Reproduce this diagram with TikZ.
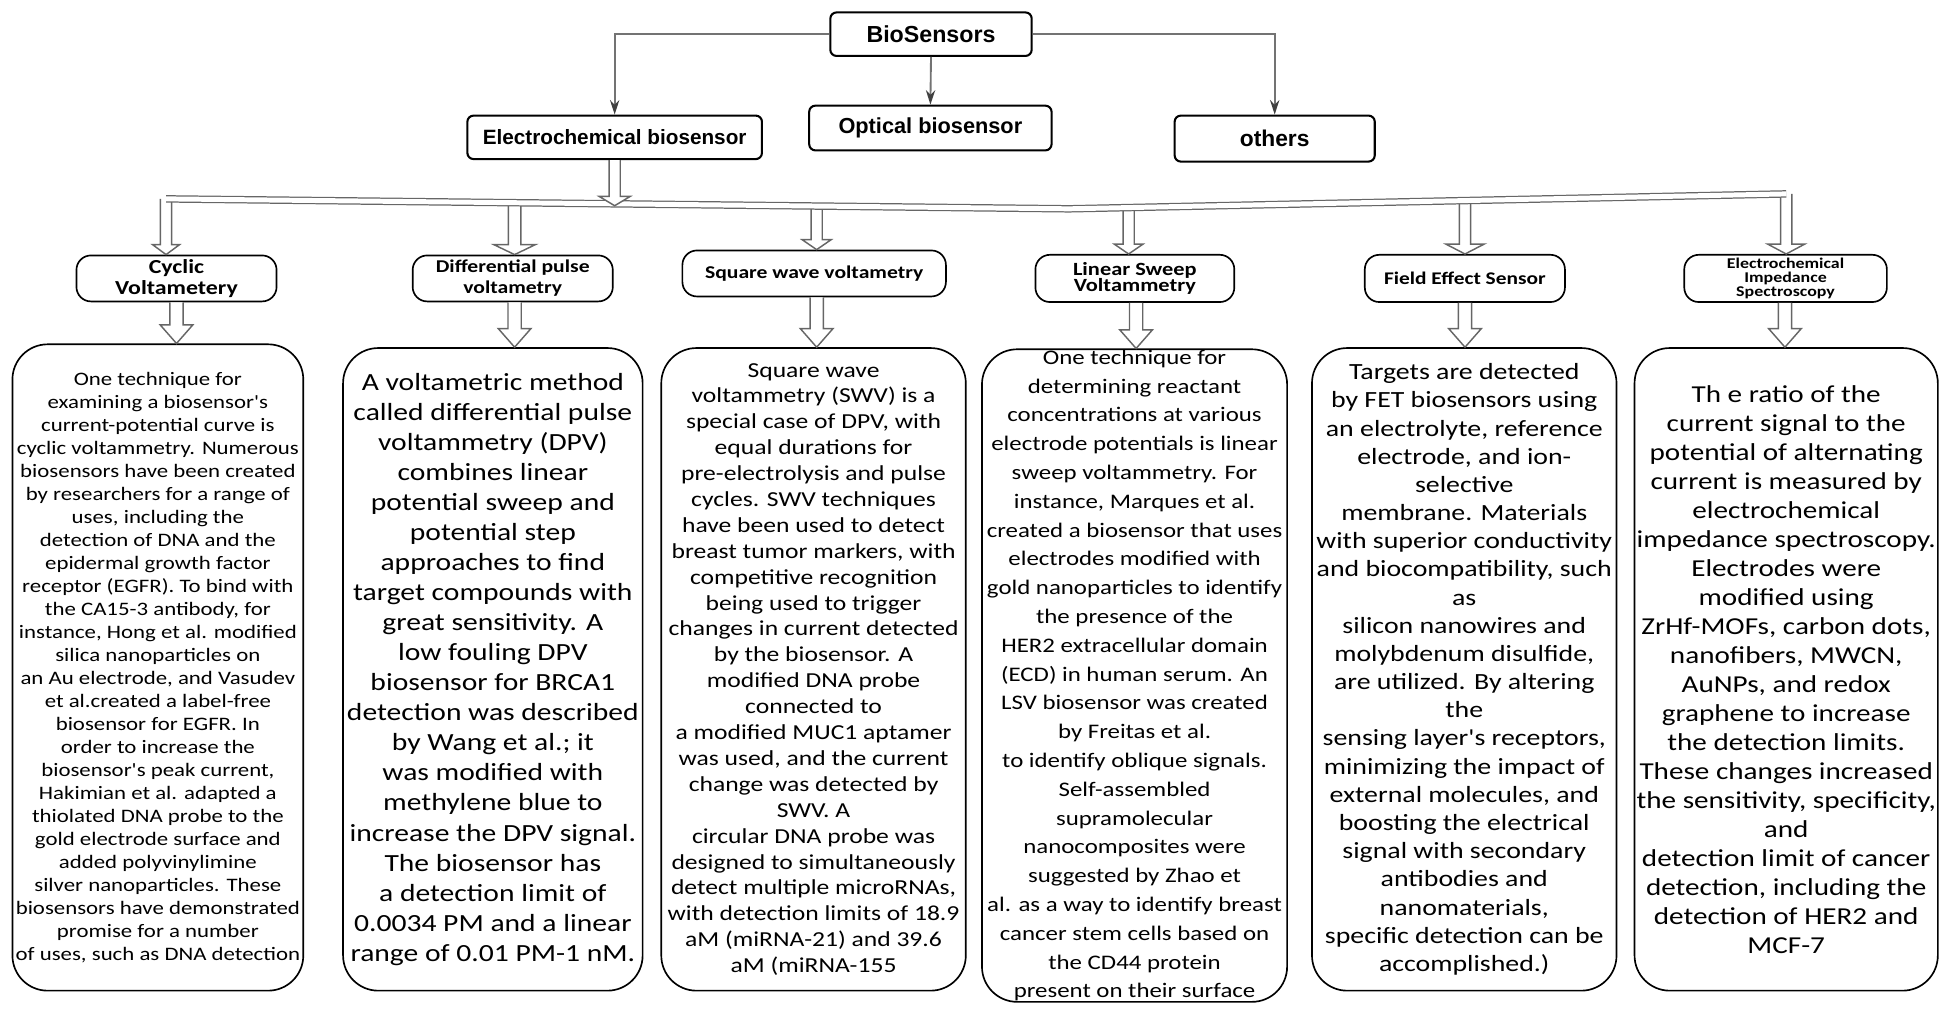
\documentclass[tikz,border=0pt]{standalone}
\usepackage{fontspec}
\setmainfont{Carlito}
\newfontfamily\bodyf[FakeStretch=1.2]{Carlito}
\newfontfamily\topf{Liberation Sans}
\usetikzlibrary{arrows.meta,calc}
\newcommand\uu{0.6pt}
\newcommand\hollowarrow[5]{% #1 start, #2 end, #3 shaft half width, #4 head half width, #5 head length
  \draw[hollow] let \p1=(#1), \p2=(#2) in
    ({\x1-#3},\y1) -- ({\x1-#3},{\y2+#5}) -- ({\x1-#4},{\y2+#5}) -- (\x1,\y2)
    -- ({\x1+#4},{\y2+#5}) -- ({\x1+#3},{\y2+#5}) -- ({\x1+#3},\y1);}
\tikzset{
  topbox/.style={draw=black, line width=1pt, rounded corners=3pt, inner sep=0pt, fill=white},
  subbox/.style={draw=black, line width=0.8pt, rounded corners=7pt, inner sep=0pt, align=center, fill=white},
  bodybox/.style={draw=black, line width=0.8pt, rounded corners=17pt, inner sep=0pt, align=center},
  conn/.style={draw=black!55, line width=0.9pt, -{Stealth[length=7pt,width=4.5pt,color=black!75]}},
  hollow/.style={draw=black!60, line width=0.7pt, fill=white, line join=miter},
  bar/.style={draw=black!60, line width=0.6pt, double=white, double distance=2.4pt},
}
\begin{document}
\begin{tikzpicture}[x=0.6pt, y=-0.6pt]
\useasboundingbox (0,0) rectangle (1568,817.4);

% top level
\node[topbox, minimum width=162*\uu, minimum height=35*\uu, font=\topf\bfseries\fontsize{11.2pt}{13pt}\selectfont] (bio) at (749,27.5) {BioSensors};
\node[topbox, minimum width=237*\uu, minimum height=35*\uu, font=\topf\bfseries\fontsize{10pt}{12pt}\selectfont] (ec) at (494.5,110.5) {Electrochemical biosensor};
\node[topbox, minimum width=195*\uu, minimum height=36*\uu, font=\topf\bfseries\fontsize{10.5pt}{12pt}\selectfont] (opt) at (748.5,103) {Optical biosensor};
\node[topbox, minimum width=161*\uu, minimum height=37*\uu, font=\topf\bfseries\fontsize{11pt}{12pt}\selectfont] (oth) at (1025.5,111.5) {others};

\draw[conn] (bio.west) -| (ec.north);
\draw[conn] (bio.east) -| (oth.north);
\draw[conn] (bio.south) -- (opt.north);

% bar
\coordinate (bL) at (133.6,160);
\coordinate (bM) at (860,168);
\coordinate (bR) at (1437,156);
\coordinate (bEC) at (494.5,165.5);
\coordinate (b1) at (133.6,160);
\coordinate (b2) at (414,163.5);
\coordinate (b3) at (657,165.5);
\coordinate (b4) at (908,166.5);
\coordinate (b5) at (1178.6,161.5);
\coordinate (b6) at (1437,156);

% sub boxes
\node[subbox, minimum width=161*\uu, minimum height=37*\uu, font=\bodyf\bfseries\fontsize{9.6pt}{10.2pt}\selectfont] (cv) at (142,224) {Cyclic\\Voltametery};
\node[subbox, minimum width=161*\uu, minimum height=37*\uu, font=\bodyf\bfseries\fontsize{8.7pt}{10.2pt}\selectfont] (dpv) at (412.5,224) {Differential pulse\\voltametry};
\node[subbox, minimum width=212*\uu, minimum height=37*\uu, font=\bodyf\bfseries\fontsize{8.7pt}{10.2pt}\selectfont] (swv) at (655,220) {Square wave voltametry};
\node[subbox, minimum width=160*\uu, minimum height=38*\uu, font=\bodyf\bfseries\fontsize{9pt}{7.8pt}\selectfont] (lsv) at (913,224) {Linear Sweep\\Voltammetry};
\node[subbox, minimum width=161*\uu, minimum height=38*\uu, font=\bodyf\bfseries\fontsize{8.6pt}{10pt}\selectfont] (fet) at (1178.5,224) {Field Effect Sensor};
\node[subbox, minimum width=163*\uu, minimum height=38*\uu, font=\bodyf\bfseries\fontsize{7.2pt}{6.6pt}\selectfont] (eis) at (1436.5,224) {Electrochemical\\Impedance\\Spectroscopy};

% body boxes
\node[bodybox, minimum width=234*\uu, minimum height=520*\uu, font=\bodyf\fontsize{9.18pt}{11.1pt}\selectfont] (cvb) at (127,537) {One technique for\\examining a biosensor's\\current-potential curve is\\cyclic voltammetry. Numerous\\biosensors have been created\\by researchers for a range of\\uses, including the\\detection of DNA and the\\epidermal growth factor\\receptor (EGFR). To bind with\\the CA15-3 antibody, for\\instance, Hong et al. modified\\silica nanoparticles on\\an Au electrode, and Vasudev\\et al.created a label-free\\biosensor for EGFR. In\\order to increase the\\biosensor's peak current,\\Hakimian et al. adapted a\\thiolated DNA probe to the\\gold electrode surface and\\added polyvinylimine\\silver nanoparticles. These\\biosensors have demonstrated\\promise for a number\\of uses, such as DNA detection};
\node[bodybox, minimum width=241*\uu, minimum height=517*\uu, font=\bodyf\fontsize{11.9pt}{14.5pt}\selectfont] (dpvb) at (396.5,538.5) {A voltametric method\\called differential pulse\\voltammetry (DPV)\\combines linear\\potential sweep and\\potential step\\approaches to find\\target compounds with\\great sensitivity. A\\low fouling DPV\\biosensor for BRCA1\\detection was described\\by Wang et al.; it\\was modified with\\methylene blue to\\increase the DPV signal.\\The biosensor has\\a detection limit of\\0.0034 PM and a linear\\range of 0.01 PM-1 nM.};
\node[bodybox, minimum width=245*\uu, minimum height=517*\uu, font=\bodyf\fontsize{10.3pt}{12.5pt}\selectfont] (swvb) at (654.5,538.5) {Square wave\\voltammetry (SWV) is a\\special case of DPV, with\\equal durations for\\pre-electrolysis and pulse\\cycles. SWV techniques\\have been used to detect\\breast tumor markers, with\\competitive recognition\\being used to trigger\\changes in current detected\\by the biosensor. A\\modified DNA probe\\connected to\\a modified MUC1 aptamer\\was used, and the current\\change was detected by\\SWV. A\\circular DNA probe was\\designed to simultaneously\\detect multiple microRNAs,\\with detection limits of 18.9\\aM (miRNA-21) and 39.6\\aM (miRNA-155};
\node[bodybox, minimum width=245.5*\uu, minimum height=525*\uu, font=\bodyf\fontsize{10pt}{13.9pt}\selectfont] (lsvb) at (912.75,543.5) {One technique for\\determining reactant\\concentrations at various\\electrode potentials is linear\\sweep voltammetry. For\\instance, Marques et al.\\created a biosensor that uses\\electrodes modified with\\gold nanoparticles to identify\\the presence of the\\HER2 extracellular domain\\(ECD) in human serum. An\\LSV biosensor was created\\by Freitas et al.\\to identify oblique signals.\\Self-assembled\\supramolecular\\nanocomposites were\\suggested by Zhao et\\al. as a way to identify breast\\cancer stem cells based on\\the CD44 protein\\present on their surface};
\node[bodybox, minimum width=245*\uu, minimum height=517*\uu, font=\bodyf\fontsize{11.2pt}{13.6pt}\selectfont] (fetb) at (1178,538.5) {Targets are detected\\by FET biosensors using\\an electrolyte, reference\\electrode, and ion-\\selective\\membrane. Materials\\with superior conductivity\\and biocompatibility, such\\as\\silicon nanowires and\\molybdenum disulfide,\\are utilized. By altering\\the\\sensing layer's receptors,\\minimizing the impact of\\external molecules, and\\boosting the electrical\\signal with secondary\\antibodies and\\nanomaterials,\\specific detection can be\\accomplished.)};
\node[bodybox, minimum width=244*\uu, minimum height=517*\uu, font=\bodyf\fontsize{11.73pt}{14pt}\selectfont] (eisb) at (1437,538.5) {Th e ratio of the\\current signal to the\\potential of alternating\\current is measured by\\electrochemical\\impedance spectroscopy.\\Electrodes were\\modified using\\ZrHf-MOFs, carbon dots,\\nanofibers, MWCN,\\AuNPs, and redox\\graphene to increase\\the detection limits.\\These changes increased\\the sensitivity, specificity,\\and\\detection limit of cancer\\detection, including the\\detection of HER2 and\\MCF-7};

% hollow arrows: bar to sub boxes
\hollowarrow{b1}{b1 |- cv.north}{2.7pt}{6.5pt}{4.8pt}
\hollowarrow{b2}{b2 |- dpv.north}{3pt}{10pt}{4.8pt}
\hollowarrow{b3}{b3 |- swv.north}{2.7pt}{7pt}{4.8pt}
\hollowarrow{b4}{b4 |- lsv.north}{2.7pt}{7pt}{4.8pt}
\hollowarrow{b5}{b5 |- fet.north}{2.7pt}{9.3pt}{4.8pt}
\hollowarrow{b6}{b6 |- eis.north}{2.7pt}{9pt}{4.8pt}

% bar drawn over arrow tops
\draw[bar] (bL) -- (bM) -- (bR);

% electrochemical to bar
\hollowarrow{ec.south}{bEC}{2.7pt}{7.5pt}{4.5pt}

% sub boxes to body boxes
\coordinate (s1) at (142,0);
\hollowarrow{s1 |- cv.south}{s1 |- cvb.north}{3.2pt}{7.9pt}{9pt}
\coordinate (s2) at (414,0);
\hollowarrow{s2 |- dpv.south}{s2 |- dpvb.north}{3.2pt}{7.9pt}{9pt}
\coordinate (s3) at (657,0);
\hollowarrow{s3 |- swv.south}{s3 |- swvb.north}{3.2pt}{7.9pt}{9pt}
\coordinate (s4) at (914,0);
\hollowarrow{s4 |- lsv.south}{s4 |- lsvb.north}{3.2pt}{7.9pt}{9pt}
\coordinate (s5) at (1178.6,0);
\hollowarrow{s5 |- fet.south}{s5 |- fetb.north}{3.2pt}{7.9pt}{9pt}
\coordinate (s6) at (1436,0);
\hollowarrow{s6 |- eis.south}{s6 |- eisb.north}{3.2pt}{7.9pt}{9pt}
\end{tikzpicture}
\end{document}
